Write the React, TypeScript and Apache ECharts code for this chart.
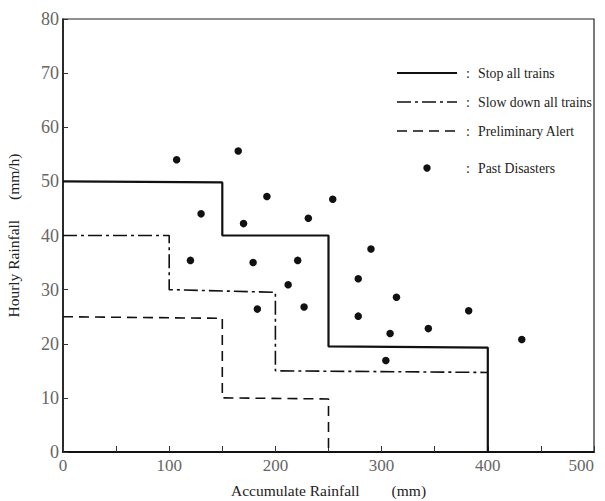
import React, { useEffect, useRef } from "react";
import * as echarts from "echarts";

const xTicks = [0, 100, 200, 300, 400, 500];
const yTicks = [0, 10, 20, 30, 40, 50, 60, 70, 80];

const stopAllTrains: [number, number][] = [
  [0, 50], [150, 49.8], [150, 40], [250, 40], [250, 19.5], [400, 19.3], [400, 0],
];
const slowDownAllTrains: [number, number][] = [
  [0, 40], [100, 40], [100, 30], [200, 29.5], [200, 15], [400, 14.7],
];
const preliminaryAlert: [number, number][] = [
  [0, 25], [150, 24.7], [150, 10], [250, 9.8], [250, 0],
];
const pastDisasters: [number, number][] = [
  [107, 54], [165, 55.6], [130, 44], [192, 47.2], [170, 42.2], [231, 43.2],
  [254, 46.7], [290, 37.5], [120, 35.4], [179, 35], [221, 35.4], [212, 30.9],
  [183, 26.4], [227, 26.8], [278, 32], [314, 28.6], [278, 25.1], [308, 21.9],
  [344, 22.8], [382, 26.1], [432, 20.8], [304, 16.9],
];

const legendNames = ["Stop all trains", "Slow down all trains", "Preliminary Alert", "Past Disasters"];

const FONT = "'Liberation Serif', 'Times New Roman', serif";

export default function App() {
  const ref = useRef<HTMLDivElement>(null);
  useEffect(() => {
    if (!ref.current) return;
    const chart = echarts.init(ref.current, null, { renderer: "svg" });
    const dashDot = [14, 4, 3, 4];
    const dashed = [10, 6];
    const legendX0 = 397, legendX1 = 457, colonX = 466, textX = 478;
    const rowsY = [73, 102, 131, 168];
    const lineTypes: any[] = ["solid", dashDot, dashed];
    const graphics: any[] = [];
    rowsY.forEach((y, i) => {
      if (i < 3) {
        graphics.push({
          type: "line",
          shape: { x1: legendX0, y1: y, x2: legendX1, y2: y },
          style: { stroke: "#111", lineWidth: i === 0 ? 2 : 1.6, lineDash: i === 0 ? null : lineTypes[i] },
        });
      } else {
        graphics.push({
          type: "circle",
          shape: { cx: 427, cy: y, r: 3.7 },
          style: { fill: "#111" },
        });
      }
      graphics.push({
        type: "text",
        x: colonX,
        y: y,
        style: { text: ":", font: `14px ${FONT}`, fill: "#222", verticalAlign: "middle" },
      });
      graphics.push({
        type: "text",
        x: textX,
        y: y,
        style: { text: legendNames[i], font: `13.8px ${FONT}`, fill: "#222", verticalAlign: "middle" },
      });
    });

    chart.setOption({
      animation: false,
      backgroundColor: "#fff",
      textStyle: { fontFamily: FONT },
      grid: {
        left: 63, right: 11, top: 19, bottom: 49,
        outerBoundsMode: "none",
        containLabel: false,
        show: true, borderColor: "#222", borderWidth: 1.2,
      },
      xAxis: {
        type: "value",
        min: xTicks[0],
        max: xTicks[xTicks.length - 1],
        interval: 100,
        name: "Accumulate Rainfall\u3000\u3000(mm)",
        nameLocation: "middle",
        nameGap: 30,
        nameTextStyle: { fontFamily: FONT, fontSize: 15.5, color: "#222" },
        axisLine: { show: true, lineStyle: { color: "#111", width: 2 } },
        axisTick: { show: true, inside: true, length: 6, lineStyle: { color: "#333" } },
        minorTick: { show: true, splitNumber: 2, length: 6, lineStyle: { color: "#333" } },
        splitLine: { show: false },
        axisLabel: { color: "#666", fontSize: 17, fontFamily: FONT, margin: 5, alignMaxLabel: "right" },
      },
      yAxis: {
        type: "value",
        min: yTicks[0],
        max: yTicks[yTicks.length - 1],
        interval: 10,
        name: "Hourly Rainfall\u3000 (mm/h)",
        nameLocation: "middle",
        nameGap: 42,
        nameTextStyle: { fontFamily: FONT, fontSize: 15.5, color: "#222" },
        axisLine: { show: true, lineStyle: { color: "#111", width: 1.5 } },
        axisTick: { show: true, inside: true, length: 5, lineStyle: { color: "#333" } },
        splitLine: { show: false },
        axisLabel: { color: "#666", fontSize: 18, fontFamily: FONT, margin: 4 },
      },
      series: [
        {
          name: legendNames[0], type: "line", data: stopAllTrains, symbol: "none",
          lineStyle: { color: "#111", width: 2.2, type: "solid" },
        },
        {
          name: legendNames[1], type: "line", data: slowDownAllTrains, symbol: "none",
          lineStyle: { color: "#111", width: 1.6, type: dashDot },
        },
        {
          name: legendNames[2], type: "line", data: preliminaryAlert, symbol: "none",
          lineStyle: { color: "#111", width: 1.6, type: dashed },
        },
        {
          name: legendNames[3], type: "scatter", data: pastDisasters, symbol: "circle", symbolSize: 7.5,
          itemStyle: { color: "#111", opacity: 1 },
        },
      ],
      graphic: graphics,
    });
    return () => chart.dispose();
  }, []);
  return (
    <div
      ref={ref}
      style={{ position: "fixed", left: 0, top: 0, width: 605, height: 501, background: "#fff" }}
    />
  );
}
